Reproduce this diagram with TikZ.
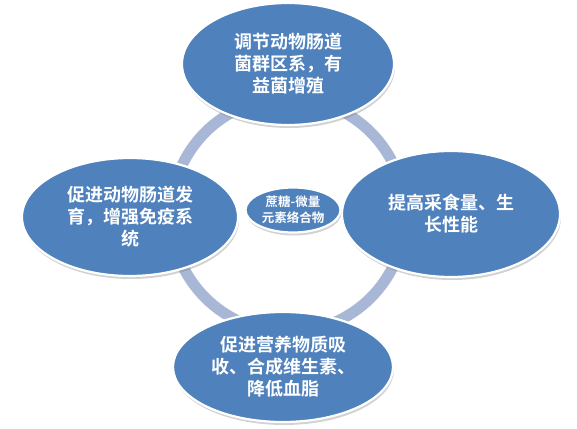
\documentclass[tikz,border=0pt]{standalone}
\usepackage{fontspec}
\newfontfamily\cjk{Noto Sans CJK SC}[BoldFont={Noto Sans CJK SC Bold}]
\usetikzlibrary{shapes.geometric,shadows}
\definecolor{bubfill}{RGB}{79,129,189}
\definecolor{ringcol}{RGB}{168,183,213}
\tikzset{
  bub/.style={ellipse, fill=bubfill, draw=white, line width=2.2pt, inner sep=0pt,
    align=center, text=white, font=\cjk\bfseries\fontsize{18}{22}\selectfont,
    drop shadow={opacity=0.35, shadow xshift=1pt, shadow yshift=-3pt}},
  hub/.style={bub, font=\cjk\bfseries\fontsize{12.5}{16}\selectfont},
  ring/.style={draw=ringcol, line width=11pt}
}
\begin{document}
\begin{tikzpicture}[x=1pt,y=-1pt]
\useasboundingbox[fill=white] (0,0) rectangle (577,428);
\coordinate (c) at (288,215);
\draw[ring] (c) circle (117);
\node[bub, minimum width=212, minimum height=122] (top) at (288,64) {调节动物肠道\\菌群区系，有\\益菌增殖};
\node[bub, minimum width=216, minimum height=118] (left) at (130,217) {促进动物肠道发\\育，增强免疫系\\统};
\node[bub, minimum width=218, minimum height=126] (right) at (451,214) {提高采食量、生\\长性能};
\node[bub, minimum width=220, minimum height=110] (bottom) at (283,367) {促进营养物质吸\\收、合成维生素、\\降低血脂};
\node[hub, minimum width=95, minimum height=45] (hub) at (293,210) {蔗糖-微量\\元素络合物};
\end{tikzpicture}
\end{document}
